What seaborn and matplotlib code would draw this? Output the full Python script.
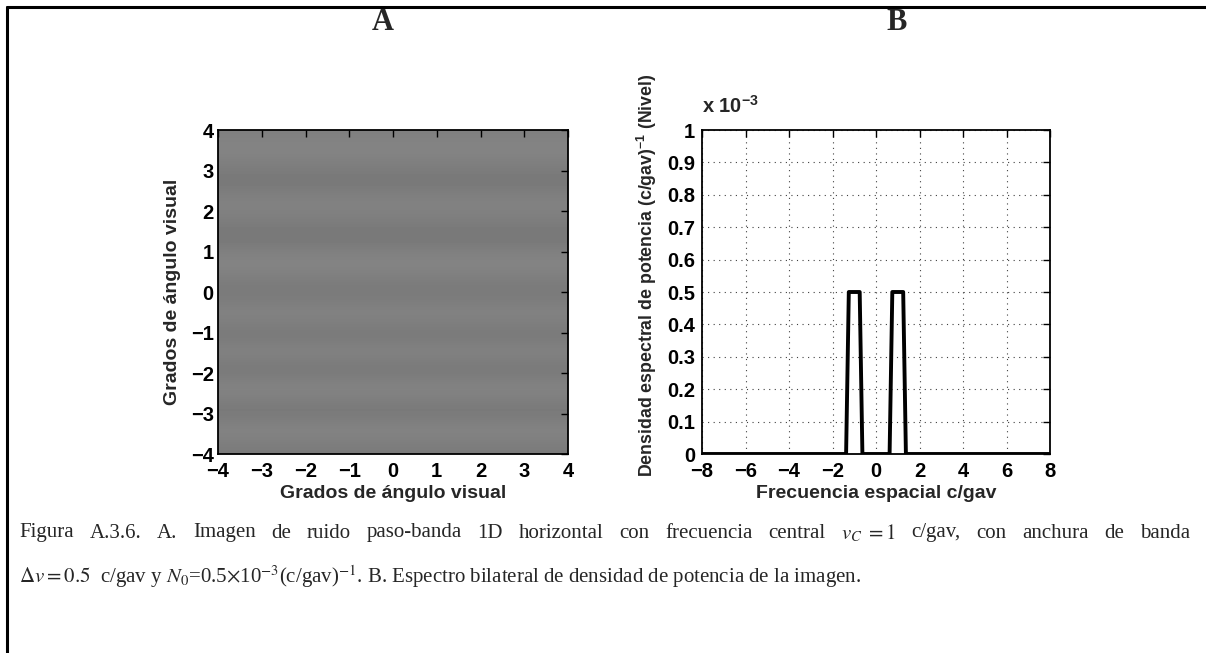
import numpy as np
import matplotlib
matplotlib.use("Agg")
import matplotlib.pyplot as plt
from matplotlib.lines import Line2D
from matplotlib.ticker import FuncFormatter
import seaborn as sns
import pandas as pd

# --- data -------------------------------------------------------------
# Grey level (0-255) of the horizontal noise stripes, sampled every 0.25 deg
# from the top edge (+4 deg) to the bottom edge (-4 deg).
stripe_gray = [128, 132, 131, 126, 122, 121, 126, 130, 128, 124, 120, 122,
               128, 132, 129, 124, 122, 125, 130, 127, 122, 124, 130, 125,
               121, 127, 131, 126, 121, 125, 131, 128, 123]

# Two-sided power spectral density (level per c/gav)
freq = [-8, -1.375, -1.25, -0.75, -0.625, 0.625, 0.75, 1.25, 1.375, 8]
psd = [0, 0, 0.5e-3, 0.5e-3, 0, 0, 0.5e-3, 0.5e-3, 0, 0]

ang_ticks = [-4, -3, -2, -1, 0, 1, 2, 3, 4]
freq_ticks = [-8, -6, -4, -2, 0, 2, 4, 6, 8]
psd_ticks = [0, 0.1e-3, 0.2e-3, 0.3e-3, 0.4e-3, 0.5e-3, 0.6e-3, 0.7e-3, 0.8e-3, 0.9e-3, 1e-3]

caption_line1 = ["Figura", "A.3.6.", "A.", "Imagen", "de", "ruido", "paso-banda", "1D",
                 "horizontal", "con", "frecuencia", "central", r"$v_C\;=1$", "c/gav,",
                 "con", "anchura", "de", "banda"]
caption_line2 = (r"$\Delta v = 0.5$  c/gav y $N_0$=0.5$\times$10$^{\mathrm{-3}}$(c/gav)$^{\mathrm{-1}}$."
                 " B. Espectro bilateral de densidad de potencia de la imagen.")

# --- style ------------------------------------------------------------
sns.set_theme(style="white")
plt.rcParams["font.family"] = ["Liberation Sans", "DejaVu Sans"]
plt.rcParams["font.weight"] = "normal"
plt.rcParams["mathtext.fontset"] = "custom"
plt.rcParams["mathtext.rm"] = "Liberation Sans:bold"
plt.rcParams["mathtext.bf"] = "Liberation Sans:bold"
plt.rcParams["mathtext.it"] = "Liberation Sans:italic:bold"
plt.rcParams["axes.unicode_minus"] = True

W, H = 1206, 653
fig = plt.figure(figsize=(W / 100, H / 100), dpi=100)
fig.patch.set_facecolor("white")

def px_axes(left, top, right, bottom):
    return fig.add_axes([left / W, 1 - bottom / H, (right - left) / W, (bottom - top) / H])

tick_fs = 14.5
label_fs = 14

def style_axes(ax, ypad=3):
    for s in ax.spines.values():
        s.set_visible(True)
        s.set_color("black")
        s.set_linewidth(1.3)
    ax.tick_params(direction="in", length=5, width=1.0, top=True, right=True,
                   labelsize=tick_fs, colors="black")
    ax.tick_params(axis="x", pad=6)
    ax.tick_params(axis="y", pad=ypad)
    plt.setp(ax.get_xticklabels() + ax.get_yticklabels(), fontweight="bold")

# --- panel A: stripe image -------------------------------------------
axA = px_axes(218, 130, 568, 454)
img = np.tile(np.array(stripe_gray, dtype=float)[:, None], (1, 4))
axA.imshow(img, cmap="gray", vmin=0, vmax=255, extent=[-4, 4, -4, 4],
           aspect="auto", interpolation="bicubic", origin="upper")
axA.set_xlim(-4, 4)
axA.set_ylim(-4, 4)
axA.set_xticks(ang_ticks)
axA.set_yticks(ang_ticks)
style_axes(axA)
axA.set_xlabel("Grados de ángulo visual", fontsize=label_fs, fontweight="bold")
axA.set_ylabel("Grados de ángulo visual", fontsize=label_fs, fontweight="bold")
axA.xaxis.set_label_coords(0.5, -0.095)
axA.yaxis.set_label_coords(-0.106, 0.5)

# --- panel B: spectrum ------------------------------------------------
axB = px_axes(702, 130, 1050, 454)
df = pd.DataFrame({"f": freq, "p": psd})
sns.lineplot(data=df, x="f", y="p", ax=axB, color="black", linewidth=2.8,
             sort=False, estimator=None)
axB.set_xlim(-8, 8)
axB.set_ylim(0, 1e-3)
axB.set_xticks(freq_ticks)
axB.set_yticks(psd_ticks)
axB.yaxis.set_major_formatter(
    FuncFormatter(lambda v, p: "0" if v == 0 else f"{v * 1e3:.1f}".rstrip("0").rstrip(".")))
axB.grid(True, linestyle=(0, (1, 4)), color="0.25", linewidth=0.8)
style_axes(axB, ypad=5)
axB.set_xlabel("Frecuencia espacial c/gav", fontsize=label_fs, fontweight="bold")
axB.set_ylabel(r"Densidad espectral de potencia (c/gav)$^{\mathbf{-1}}$ (Nivel)",
               fontsize=12.8, fontweight="bold")
axB.xaxis.set_label_coords(0.5, -0.095)
axB.yaxis.set_label_coords(-0.124, 0.552)
axB.text(0.0, 1.04, r"x 10$^{\mathbf{-3}}$", transform=axB.transAxes,
         fontsize=tick_fs, fontweight="bold", ha="left", va="bottom")

# --- panel letters ----------------------------------------------------
for letter, x in (("A", 383), ("B", 897)):
    fig.text(x / W, 1 - 22 / H, letter, ha="center", va="center",
             fontsize=22, fontweight="bold", family="Liberation Serif")

# --- caption ----------------------------------------------------------
cap_kw = dict(fontsize=15, fontweight="normal", family="Liberation Serif",
              math_fontfamily="stix", va="center")

# first line is justified between the left and right margins
left_px, right_px = 19, 1190
renderer = fig.canvas.get_renderer()
word_texts = [fig.text(0, 1 - 533 / H, w, ha="left", **cap_kw) for w in caption_line1]
widths = [t.get_window_extent(renderer).width for t in word_texts]
gap = (right_px - left_px - sum(widths)) / (len(widths) - 1)
x = left_px
for t, w in zip(word_texts, widths):
    t.set_x(x / W)
    x += w + gap

fig.text(left_px / W, 1 - 577 / H, caption_line2, ha="left", **cap_kw)

# --- frame ------------------------------------------------------------
fig.add_artist(Line2D([7 / W, 1.0], [1 - 7 / H, 1 - 7 / H], color="black", linewidth=2.2,
                      transform=fig.transFigure))
fig.add_artist(Line2D([7 / W, 7 / W], [1 - 7 / H, 0.0], color="black", linewidth=2.2,
                      transform=fig.transFigure))

fig.savefig("out.png", dpi=100)
